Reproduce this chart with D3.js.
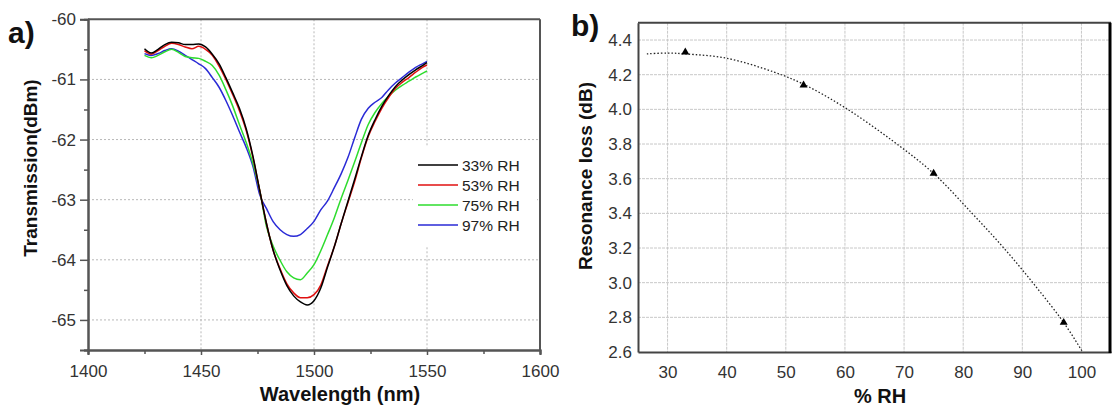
<!DOCTYPE html>
<html>
<head>
<meta charset="utf-8">
<script src="https://cdn.jsdelivr.net/npm/d3@7"></script>
<style>
  html, body { margin: 0; padding: 0; background: #fff; }
  svg { display: block; font-family: "Liberation Sans", Arial, sans-serif; }
</style>
</head>
<body>
<svg id="chart" width="1113" height="409"></svg>
<script>
// ---------- Panel a data ----------
const wavelengths = [1425,1428,1431,1434,1437,1440,1443,1446,1449,1452,1455,1458,1461,1464,1467,1470,1473,1476,1479,1482,1485,1488,1491,1494,1497,1500,1503,1506,1509,1512,1515,1518,1521,1524,1527,1530,1533,1536,1539,1542,1545,1548,1550];
const rh33 = [-60.49,-60.56,-60.50,-60.42,-60.38,-60.39,-60.42,-60.42,-60.41,-60.46,-60.58,-60.74,-60.97,-61.22,-61.48,-61.82,-62.28,-62.85,-63.40,-63.85,-64.17,-64.43,-64.60,-64.70,-64.75,-64.68,-64.47,-64.12,-63.78,-63.40,-63.03,-62.66,-62.28,-61.93,-61.67,-61.45,-61.27,-61.12,-61.01,-60.92,-60.84,-60.77,-60.72];
const rh53 = [-60.52,-60.58,-60.52,-60.45,-60.40,-60.42,-60.46,-60.49,-60.45,-60.50,-60.60,-60.78,-61.00,-61.25,-61.52,-61.85,-62.30,-62.85,-63.40,-63.85,-64.15,-64.40,-64.55,-64.63,-64.63,-64.58,-64.42,-64.10,-63.78,-63.40,-63.05,-62.70,-62.30,-61.95,-61.70,-61.48,-61.30,-61.15,-61.05,-60.97,-60.88,-60.80,-60.76];
const rh75 = [-60.60,-60.64,-60.60,-60.54,-60.50,-60.55,-60.62,-60.64,-60.65,-60.70,-60.77,-60.93,-61.17,-61.44,-61.75,-62.05,-62.40,-62.85,-63.45,-63.78,-64.01,-64.20,-64.30,-64.33,-64.22,-64.08,-63.85,-63.58,-63.30,-62.98,-62.68,-62.37,-62.05,-61.75,-61.55,-61.40,-61.28,-61.18,-61.10,-61.03,-60.96,-60.90,-60.86];
const rh97 = [-60.57,-60.60,-60.57,-60.52,-60.49,-60.53,-60.60,-60.67,-60.74,-60.82,-60.97,-61.13,-61.35,-61.60,-61.87,-62.13,-62.45,-62.92,-63.15,-63.37,-63.50,-63.58,-63.61,-63.58,-63.48,-63.36,-63.17,-63.02,-62.80,-62.57,-62.30,-61.97,-61.66,-61.48,-61.38,-61.30,-61.17,-61.06,-60.97,-60.88,-60.80,-60.74,-60.70];
const seriesLabels = ["33% RH", "53% RH", "75% RH", "97% RH"];
const seriesColors = ["#000000", "#e01010", "#2edc2e", "#2a2ad6"];
const xTicksA = [1400, 1450, 1500, 1550, 1600];
const xMinorA = [1425, 1475, 1525, 1575];
const yTicksA = [-60, -61, -62, -63, -64, -65];
const yMinorA = [-60.5, -61.5, -62.5, -63.5, -64.5, -65.5];

// ---------- Panel b data ----------
const rhPoints = [33, 53, 75, 97];
const lossPoints = [4.33, 4.14, 3.63, 2.77];
const fitRH =   [26.5, 30, 33, 40, 48, 53, 60, 68, 75, 81.5, 87, 92, 97, 100.2];
const fitLoss = [4.32, 4.325, 4.32, 4.295, 4.215, 4.145, 4.01, 3.82, 3.63, 3.40, 3.195, 2.99, 2.77, 2.60];
const xTicksB = [30, 40, 50, 60, 70, 80, 90, 100];
const yTicksB = [2.6, 2.8, 3.0, 3.2, 3.4, 3.6, 3.8, 4.0, 4.2, 4.4];

const svg = d3.select("#chart");

// ================= Panel a =================
const xA = d3.scaleLinear().domain([1400, 1600]).range([88, 540]);
const yA = d3.scaleLinear().domain([-65.5, -60]).range([350, 19.3]);

const gA = svg.append("g");
// grid
gA.append("g").selectAll("line.vg").data(xTicksA.slice(1, -1)).join("line")
  .attr("x1", d => xA(d)).attr("x2", d => xA(d)).attr("y1", yA(-60)).attr("y2", yA(-65.5))
  .attr("stroke", "#b8b8b8").attr("stroke-width", 1).attr("stroke-dasharray", "2,2");
gA.append("g").selectAll("line.hg").data(yTicksA.slice(1)).join("line")
  .attr("x1", xA(1400)).attr("x2", xA(1600)).attr("y1", d => yA(d)).attr("y2", d => yA(d))
  .attr("stroke", "#b8b8b8").attr("stroke-width", 1).attr("stroke-dasharray", "2,2");

// legend background (hides grid)
const legX = 413, legY = 146;
gA.append("rect").attr("x", legX).attr("y", legY).attr("width", 124).attr("height", 100).attr("fill", "#fff");

// lines
const seriesA = [rh33, rh53, rh75, rh97];
const lineA = d3.line().x((d, i) => xA(wavelengths[i])).y(d => yA(d)).curve(d3.curveMonotoneX);
[3, 2, 1, 0].forEach(k => {
  gA.append("path").datum(seriesA[k]).attr("d", lineA)
    .attr("fill", "none").attr("stroke", seriesColors[k]).attr("stroke-width", 1.5);
});

// axes
const axA_b = gA.append("g").attr("transform", `translate(0,${yA(-65.5)})`)
  .call(d3.axisBottom(xA).tickValues(xTicksA).tickSize(5).tickPadding(10).tickFormat(d => String(d)));
const axA_bm = gA.append("g").attr("transform", `translate(0,${yA(-65.5)})`)
  .call(d3.axisBottom(xA).tickValues(xMinorA).tickSize(4).tickFormat(""));
const axA_l = gA.append("g").attr("transform", `translate(${xA(1400)},0)`)
  .call(d3.axisLeft(yA).tickValues(yTicksA).tickSize(8).tickPadding(4).tickFormat(d => String(d)));
const axA_lm = gA.append("g").attr("transform", `translate(${xA(1400)},0)`)
  .call(d3.axisLeft(yA).tickValues(yMinorA).tickSize(4).tickFormat(""));
[axA_b, axA_bm, axA_l, axA_lm].forEach(a => {
  a.select(".domain").attr("stroke", "#555").attr("stroke-width", 2);
  a.selectAll(".tick line").attr("stroke", "#555").attr("stroke-width", 1.5);
  a.selectAll(".tick text").attr("font-size", 17).attr("fill", "#333")
    .attr("font-family", "Liberation Sans, Arial, sans-serif");
});
gA.append("line").attr("x1", xA(1400)).attr("x2", xA(1600)).attr("y1", yA(-60)).attr("y2", yA(-60))
  .attr("stroke", "#555").attr("stroke-width", 2);
gA.append("line").attr("x1", xA(1600)).attr("x2", xA(1600)).attr("y1", yA(-60)).attr("y2", yA(-65.5))
  .attr("stroke", "#555").attr("stroke-width", 2);

// legend
seriesLabels.forEach((lab, i) => {
  const yy = 165 + i * 20;
  gA.append("line").attr("x1", 418).attr("x2", 458).attr("y1", yy).attr("y2", yy)
    .attr("stroke", seriesColors[i]).attr("stroke-width", 1.5);
  gA.append("text").attr("x", 462).attr("y", yy + 5.5).text(lab)
    .attr("font-size", 15.5).attr("fill", "#222");
});

// titles
gA.append("text").attr("x", 340).attr("y", 401).attr("text-anchor", "middle")
  .attr("font-size", 20).attr("font-weight", "bold").attr("fill", "#111").text("Wavelength (nm)");
gA.append("text").attr("transform", "translate(37,168) rotate(-90)").attr("text-anchor", "middle")
  .attr("font-size", 19).attr("font-weight", "bold").attr("fill", "#111").text("Transmission(dBm)");
gA.append("text").attr("x", 8).attr("y", 43).attr("font-size", 30).attr("font-weight", "bold")
  .attr("fill", "#111").text("a)");

// ================= Panel b =================
const xB = d3.scaleLinear().domain([25, 105]).range([638, 1111]);
const yB = d3.scaleLinear().domain([2.6, 4.5]).range([352, 22.7]);
const gB = svg.append("g");

gB.append("g").selectAll("line").data(xTicksB).join("line")
  .attr("x1", d => xB(d)).attr("x2", d => xB(d)).attr("y1", yB(4.5)).attr("y2", yB(2.6))
  .attr("stroke", "#c8c8c8").attr("stroke-width", 1).attr("stroke-dasharray", "3,1");
gB.append("g").selectAll("line").data(yTicksB.slice(1)).join("line")
  .attr("x1", xB(25)).attr("x2", xB(105)).attr("y1", d => yB(d)).attr("y2", d => yB(d))
  .attr("stroke", "#c8c8c8").attr("stroke-width", 1).attr("stroke-dasharray", "3,1");

const lineB = d3.line().x((d, i) => xB(fitRH[i])).y(d => yB(d)).curve(d3.curveCatmullRom);
gB.append("path").datum(fitLoss).attr("d", lineB).attr("fill", "none")
  .attr("stroke", "#222").attr("stroke-width", 1.3).attr("stroke-dasharray", "1.5,2");

gB.append("g").selectAll("path").data(lossPoints).join("path")
  .attr("d", d3.symbol().type(d3.symbolTriangle).size(28))
  .attr("transform", (d, i) => `translate(${xB(rhPoints[i])},${yB(d)})`)
  .attr("fill", "#000");

const axB_b = gB.append("g").attr("transform", `translate(0,${yB(2.6)})`)
  .call(d3.axisBottom(xB).tickValues(xTicksB).tickSize(0).tickPadding(14).tickFormat(d => String(d)));
const axB_l = gB.append("g").attr("transform", `translate(${xB(25)},0)`)
  .call(d3.axisLeft(yB).tickValues(yTicksB).tickSize(0).tickPadding(6).tickFormat(d3.format(".1f")));
[axB_b, axB_l].forEach(a => {
  a.select(".domain").attr("stroke", "#444").attr("stroke-width", 2);
  a.selectAll(".tick text").attr("font-size", 17).attr("fill", "#333")
    .attr("font-family", "Liberation Sans, Arial, sans-serif");
});
gB.append("line").attr("x1", xB(25)).attr("x2", xB(105)).attr("y1", yB(4.5)).attr("y2", yB(4.5))
  .attr("stroke", "#444").attr("stroke-width", 2);
gB.append("line").attr("x1", xB(105) - 1).attr("x2", xB(105) - 1).attr("y1", yB(4.5)).attr("y2", yB(2.6) + 1)
  .attr("stroke", "#000").attr("stroke-width", 3);

gB.append("text").attr("x", 880).attr("y", 403).attr("text-anchor", "middle")
  .attr("font-size", 20).attr("font-weight", "bold").attr("fill", "#111").text("% RH");
gB.append("text").attr("transform", "translate(592,176) rotate(-90)").attr("text-anchor", "middle")
  .attr("font-size", 19).attr("font-weight", "bold").attr("fill", "#111").text("Resonance loss (dB)");
gB.append("text").attr("x", 571).attr("y", 36).attr("font-size", 30).attr("font-weight", "bold")
  .attr("fill", "#111").text("b)");
</script>
</body>
</html>
